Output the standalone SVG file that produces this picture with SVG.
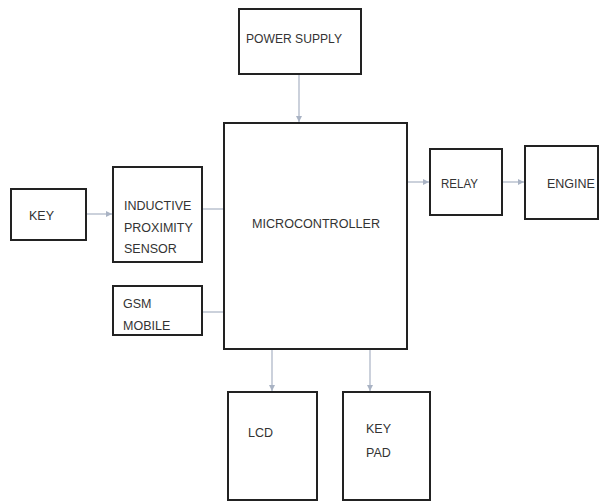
<svg xmlns="http://www.w3.org/2000/svg" width="600" height="502" viewBox="0 0 600 502">
<defs>
<style>
.box{fill:#fff;stroke:#222;stroke-width:2}
.t{font-family:"Liberation Sans",Arial,sans-serif;font-size:12.5px;fill:#333}
.c{stroke:#a9b3c4;stroke-width:1.2;fill:none}
</style>
<marker id="ah" viewBox="0 0 6 6" refX="6" refY="3" markerWidth="6" markerHeight="6" orient="auto" markerUnits="userSpaceOnUse">
<path d="M0,0 L6,3 L0,6 z" fill="#a9b3c4"/>
</marker>
</defs>
<rect width="600" height="502" fill="#fff"/>
<g id="connectors">
<line class="c" x1="299" y1="74" x2="299" y2="122" marker-end="url(#ah)"/>
<line class="c" x1="86" y1="214" x2="112" y2="214" marker-end="url(#ah)"/>
<line class="c" x1="202" y1="209" x2="223" y2="209"/>
<line class="c" x1="202" y1="312" x2="223" y2="312"/>
<line class="c" x1="407" y1="182" x2="429" y2="182" marker-end="url(#ah)"/>
<line class="c" x1="502" y1="182" x2="524" y2="182" marker-end="url(#ah)"/>
<line class="c" x1="272" y1="349" x2="272" y2="391" marker-end="url(#ah)"/>
<line class="c" x1="370" y1="349" x2="370" y2="391" marker-end="url(#ah)"/>
</g>
<g id="power">
<rect class="box" x="239" y="9" width="122" height="65"/>
<text class="t" x="246" y="43" textLength="96" lengthAdjust="spacingAndGlyphs">POWER SUPPLY</text>
</g>
<g id="micro">
<rect class="box" x="224" y="123" width="183" height="226"/>
<text class="t" x="252" y="228" textLength="128" lengthAdjust="spacingAndGlyphs">MICROCONTROLLER</text>
</g>
<g id="key">
<rect class="box" x="11" y="189" width="75" height="51"/>
<text class="t" x="29" y="220">KEY</text>
</g>
<g id="sensor">
<rect class="box" x="113" y="167" width="89" height="95"/>
<text class="t" x="124" y="210">INDUCTIVE</text>
<text class="t" x="124" y="232">PROXIMITY</text>
<text class="t" x="124" y="253">SENSOR</text>
</g>
<g id="gsm">
<rect class="box" x="113" y="286" width="89" height="49"/>
<text class="t" x="123" y="308">GSM</text>
<text class="t" x="123" y="330">MOBILE</text>
</g>
<g id="relay">
<rect class="box" x="430" y="149" width="72" height="66"/>
<text class="t" x="441" y="188" textLength="37" lengthAdjust="spacingAndGlyphs">RELAY</text>
</g>
<g id="engine">
<rect class="box" x="525" y="146" width="73" height="73"/>
<text class="t" x="547" y="188">ENGINE</text>
</g>
<g id="lcd">
<rect class="box" x="228" y="392" width="89" height="108"/>
<text class="t" x="248" y="437">LCD</text>
</g>
<g id="keypad">
<rect class="box" x="343" y="392" width="87" height="108"/>
<text class="t" x="366" y="433">KEY</text>
<text class="t" x="366" y="457">PAD</text>
</g>
</svg>
